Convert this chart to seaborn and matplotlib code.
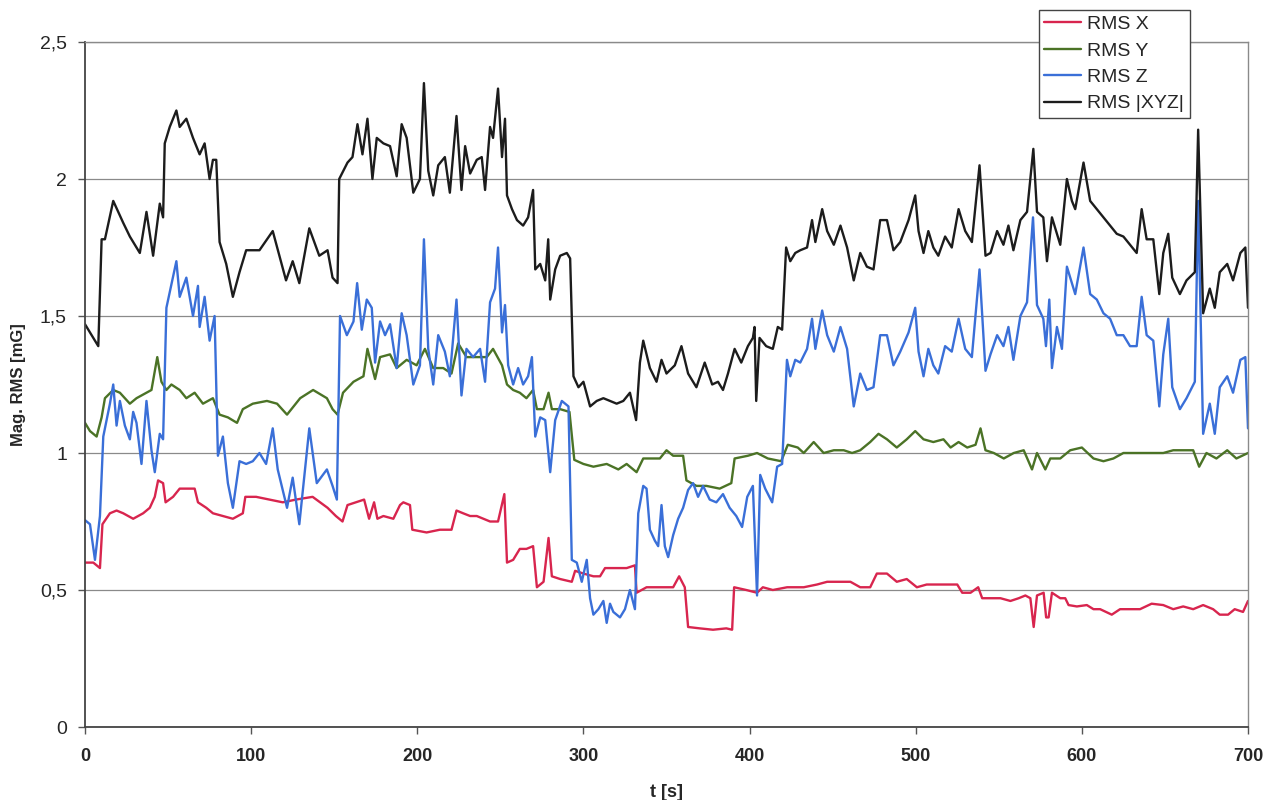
import numpy as np
import pandas as pd
import matplotlib
matplotlib.use("Agg")
import matplotlib.pyplot as plt
import seaborn as sns
from matplotlib.ticker import FuncFormatter, MultipleLocator

# --- datos (t en s, RMS en mG) ---
t_x = [0, 5, 9, 10.5, 15, 19, 23, 29, 35, 39,
       42, 44, 47, 48.5, 53, 57, 61, 66, 68, 73,
       77, 83, 89, 95, 96.5, 103, 111, 119, 127, 137,
       146, 151, 155, 158, 163, 168, 171, 174, 176, 179.6,
       185.6, 189.6, 191.6, 195.6, 197, 205.6, 213.6, 220.6, 223.6, 227.6,
       231.8, 235.8, 239.8, 243.8, 248.6, 252.4, 254, 257.7, 261.7, 265.7,
       269.7, 272, 276, 279, 281, 286, 293, 295, 300, 306,
       310, 313, 320, 326, 331, 332, 338, 346, 354, 357.6,
       361, 363, 370, 378, 386, 389.5, 390.7, 398, 404.5, 408,
       414, 422.6, 432.6, 440.6, 446.7, 454.7, 460.7, 466.6, 472.6, 476.6,
       482.7, 488.6, 494.6, 500.7, 506.6, 512.6, 518.7, 525, 528, 533,
       537.6, 540, 545, 551, 557, 562, 566, 569, 571, 573,
       577, 578.5, 580, 582, 587, 590, 592, 597, 603, 607,
       611, 618, 623, 629, 635, 642, 649, 655, 661, 667,
       673, 679, 683, 688, 692, 697, 700]
rms_x = [.60, .60, .58, .74, .78, .79, .78, .76, .78, .80,
         .84, .90, .89, .82, .84, .87, .87, .87, .82, .80,
         .78, .77, .76, .78, .84, .84, .83, .82, .83, .84,
         .80, .77, .75, .81, .82, .83, .76, .82, .76, .77,
         .76, .81, .82, .81, .72, .71, .72, .72, .79, .78,
         .77, .77, .76, .75, .75, .85, .60, .61, .65, .65,
         .66, .51, .53, .69, .55, .54, .53, .57, .56, .55,
         .55, .58, .58, .58, .59, .49, .51, .51, .51, .55,
         .51, .365, .36, .355, .36, .355, .51, .50, .49, .51,
         .50, .51, .51, .52, .53, .53, .53, .51, .51, .56,
         .56, .53, .54, .51, .52, .52, .52, .52, .49, .49,
         .51, .47, .47, .47, .46, .47, .48, .47, .365, .48,
         .49, .40, .40, .49, .47, .47, .445, .44, .445, .43,
         .43, .41, .43, .43, .43, .45, .445, .43, .44, .43,
         .445, .43, .41, .41, .43, .42, .46]

t_y = [0, 3, 7, 10, 12, 17, 21, 27, 31, 37,
       40, 43.5, 46, 49, 52, 57, 61, 66, 71, 77,
       81, 86, 91.5, 95, 101, 109.5, 115.6, 121.6, 129.5, 137.3,
       145.6, 149, 152, 155.3, 161.6, 167.6, 170, 174.6, 177.6, 183.6,
       187.6, 193.6, 199.6, 204.6, 209.6, 215.6, 220.6, 224.6, 229.6, 235.8,
       241.8, 245.6, 251, 254, 257.7, 261.7, 265.7, 269.7, 272, 276,
       279, 281, 286, 291.6, 294.5, 300, 306, 314, 321, 326,
       332, 336, 342, 346, 350, 354, 360, 362, 368, 374,
       382, 389, 391, 399, 404.5, 411, 419, 423, 429, 432.6,
       438.6, 444.6, 450.7, 456.7, 461.7, 466.6, 472.6, 477.6, 482.7, 488.6,
       494.6, 499.7, 504.7, 510.6, 516.7, 521, 525.8, 531, 536, 539,
       542, 547, 553, 559, 565, 570, 573, 578, 581, 587,
       593, 600, 607, 613, 619, 625, 631, 637, 643, 649,
       655, 661, 667, 670.6, 675, 681, 687.5, 693, 700]
rms_y = [1.11, 1.08, 1.06, 1.13, 1.20, 1.23, 1.22, 1.18, 1.20, 1.22,
         1.23, 1.35, 1.26, 1.23, 1.25, 1.23, 1.20, 1.22, 1.18, 1.20,
         1.14, 1.13, 1.11, 1.16, 1.18, 1.19, 1.18, 1.14, 1.20, 1.23,
         1.20, 1.16, 1.14, 1.22, 1.26, 1.28, 1.38, 1.27, 1.35, 1.36,
         1.31, 1.34, 1.32, 1.38, 1.31, 1.31, 1.29, 1.40, 1.35, 1.35,
         1.35, 1.38, 1.32, 1.25, 1.23, 1.22, 1.20, 1.23, 1.16, 1.16,
         1.22, 1.16, 1.16, 1.15, 0.975, 0.96, 0.95, 0.96, 0.94, 0.96,
         0.93, 0.98, 0.98, 0.98, 1.01, 0.99, 0.99, 0.90, 0.88, 0.88,
         0.87, 0.89, 0.98, 0.99, 1.00, 0.98, 0.97, 1.03, 1.02, 1.00,
         1.04, 1.00, 1.01, 1.01, 1.00, 1.01, 1.04, 1.07, 1.05, 1.02,
         1.05, 1.08, 1.05, 1.04, 1.05, 1.02, 1.04, 1.02, 1.03, 1.09,
         1.01, 1.00, 0.98, 1.00, 1.01, 0.94, 1.00, 0.94, 0.98, 0.98,
         1.01, 1.02, 0.98, 0.97, 0.98, 1.00, 1.00, 1.00, 1.00, 1.00,
         1.01, 1.01, 1.01, 0.95, 1.00, 0.98, 1.01, 0.98, 1.00]

t_z = [0, 3, 6, 9, 11, 15, 17, 19, 21, 24,
       27, 29, 31, 34, 37, 40, 42, 45, 47, 49,
       55, 57, 61, 65, 68, 69, 72, 75, 78, 80,
       83, 86, 89, 93, 97, 101, 105, 109, 113, 116,
       121.6, 125, 129, 135, 139.5, 145.6, 149, 151.6, 153.5, 157.6,
       161.6, 163.8, 166.6, 169.6, 172.6, 174.6, 177.6, 180.6, 183.6, 187.6,
       190.6, 193.6, 197.6, 201.6, 204, 206.6, 209.6, 212.6, 216.6, 219.6,
       223.6, 226.6, 229.6, 233.6, 237.8, 240.8, 243.8, 246.8, 248.6, 251,
       252.8, 254.7, 257.7, 260.7, 263.7, 266.7, 269, 271, 274, 277,
       280, 283, 287, 291, 293, 296, 299, 302, 304, 306,
       309, 312, 314, 316, 318, 322, 325, 328, 331, 333,
       336, 338, 340, 343, 345, 347, 349, 351, 354, 357,
       360, 363, 366, 369, 372, 376, 380, 384, 388, 392,
       395.5, 398.6, 402, 404.5, 406.4, 409.4, 413.6, 416.6, 419.6, 422.5,
       424.5, 427.5, 430.5, 434.6, 437.6, 439.6, 443.7, 446.7, 450.7, 454.7,
       458.7, 462.7, 466.6, 470.6, 474.6, 478.6, 482.7, 486.6, 490.7, 495.7,
       499.7, 501.7, 504.7, 507.6, 510.6, 513.6, 517.7, 521.7, 525.8, 529.8,
       533.8, 538.4, 542, 545, 549, 552.8, 555.8, 558.8, 563, 567,
       570.6, 573, 576.8, 578.4, 580.4, 582, 585, 588, 591, 596,
       601, 605, 609, 613, 617, 621, 625, 629, 633, 636,
       639, 643, 646.6, 649, 652, 654.4, 659, 663, 668, 670,
       673, 677, 680, 683, 687.5, 691, 695.4, 698.4, 700]
rms_z = [0.755, 0.74, 0.61, 0.77, 1.06, 1.18, 1.25, 1.10, 1.19, 1.10,
         1.05, 1.15, 1.11, 0.96, 1.19, 1.01, 0.93, 1.07, 1.05, 1.53,
         1.70, 1.57, 1.64, 1.50, 1.61, 1.46, 1.57, 1.41, 1.50, 0.99,
         1.06, 0.89, 0.80, 0.97, 0.96, 0.97, 1.00, 0.96, 1.09, 0.94,
         0.80, 0.91, 0.74, 1.09, 0.89, 0.94, 0.88, 0.83, 1.50, 1.43,
         1.48, 1.62, 1.45, 1.56, 1.53, 1.33, 1.48, 1.43, 1.47, 1.31,
         1.51, 1.43, 1.25, 1.32, 1.78, 1.38, 1.25, 1.43, 1.37, 1.28,
         1.56, 1.21, 1.38, 1.35, 1.38, 1.26, 1.55, 1.60, 1.75, 1.44,
         1.54, 1.32, 1.25, 1.31, 1.25, 1.28, 1.35, 1.06, 1.13, 1.12,
         0.93, 1.12, 1.19, 1.17, 0.61, 0.60, 0.53, 0.61, 0.47, 0.41,
         0.43, 0.46, 0.38, 0.45, 0.42, 0.40, 0.43, 0.50, 0.43, 0.78,
         0.88, 0.87, 0.72, 0.68, 0.66, 0.81, 0.66, 0.62, 0.70, 0.76,
         0.80, 0.865, 0.89, 0.84, 0.88, 0.83, 0.82, 0.85, 0.80, 0.77,
         0.73, 0.84, 0.88, 0.48, 0.92, 0.87, 0.82, 0.95, 0.96, 1.34,
         1.28, 1.34, 1.33, 1.38, 1.49, 1.38, 1.52, 1.43, 1.37, 1.46,
         1.38, 1.17, 1.29, 1.23, 1.24, 1.43, 1.43, 1.32, 1.37, 1.44,
         1.53, 1.37, 1.28, 1.38, 1.32, 1.29, 1.39, 1.37, 1.49, 1.38,
         1.35, 1.67, 1.30, 1.36, 1.43, 1.39, 1.46, 1.34, 1.50, 1.55,
         1.86, 1.54, 1.49, 1.39, 1.56, 1.31, 1.46, 1.38, 1.68, 1.58,
         1.75, 1.58, 1.56, 1.51, 1.49, 1.43, 1.43, 1.39, 1.39, 1.57,
         1.43, 1.41, 1.17, 1.36, 1.49, 1.24, 1.16, 1.20, 1.26, 1.92,
         1.07, 1.18, 1.07, 1.24, 1.28, 1.22, 1.34, 1.35, 1.09]

t_xyz = [0, 8, 10, 12, 17, 23, 27, 33, 37, 41,
         45, 47, 48, 51, 55, 57, 61, 65, 69, 72,
         75, 77, 79, 81, 85, 89, 93, 97, 105, 113,
         121, 125, 129, 135, 141, 146, 149, 152, 153, 158,
         161, 164, 167, 170, 173, 175.6, 179.6, 183.6, 187.6, 190.6,
         193.6, 197.6, 201.6, 204, 206.6, 209.6, 212.6, 216.6, 219.6, 223.6,
         226.6, 228.8, 231.8, 235.8, 238.8, 240.8, 243.8, 245.6, 248.6, 251,
         252.8, 254, 257, 260, 263.7, 266.7, 269.7, 271, 274, 277,
         278.8, 280, 283, 286, 290, 292, 294, 297, 300, 304,
         308, 312, 316, 320, 324, 328, 331.7, 334, 336, 340,
         344, 347, 350, 355, 359, 363, 368, 373, 377.5, 381,
         384, 387, 391, 395, 399, 402, 403, 404, 406, 410,
         414, 417, 419.6, 422, 424.5, 427.5, 430.5, 434.6, 437.6, 439.6,
         443.7, 446.7, 450.7, 454.7, 458.7, 462.7, 466.6, 470.6, 474.6, 478.6,
         482.7, 486.6, 490.7, 495.7, 499.7, 501.7, 504.7, 507.6, 510.6, 513.6,
         517.7, 521.7, 525.8, 529.8, 533.8, 538.4, 542, 545, 549, 552.8,
         555.8, 558.8, 563, 567, 570.8, 573, 576.8, 579, 582, 587,
         591, 594, 596, 601, 605, 609, 613, 617, 621, 625,
         629, 633, 636, 639, 643, 646.6, 649, 652, 654.4, 659,
         663, 668, 670, 673, 677, 680, 683, 687.5, 691, 695.4,
         698.4, 700]
rms_xyz = [1.47, 1.39, 1.78, 1.78, 1.92, 1.84, 1.79, 1.73, 1.88, 1.72,
           1.91, 1.86, 2.13, 2.19, 2.25, 2.19, 2.22, 2.15, 2.09, 2.13,
           2.00, 2.07, 2.07, 1.77, 1.69, 1.57, 1.66, 1.74, 1.74, 1.81,
           1.63, 1.70, 1.62, 1.82, 1.72, 1.74, 1.64, 1.62, 2.00, 2.06,
           2.08, 2.20, 2.09, 2.22, 2.00, 2.15, 2.13, 2.12, 2.01, 2.20,
           2.15, 1.95, 2.00, 2.35, 2.03, 1.94, 2.05, 2.08, 1.95, 2.23,
           1.96, 2.12, 2.02, 2.07, 2.08, 1.96, 2.19, 2.15, 2.33, 2.08,
           2.22, 1.94, 1.89, 1.85, 1.83, 1.86, 1.96, 1.67, 1.69, 1.63,
           1.78, 1.56, 1.67, 1.72, 1.73, 1.71, 1.28, 1.24, 1.26, 1.17,
           1.19, 1.20, 1.19, 1.18, 1.19, 1.22, 1.12, 1.33, 1.41, 1.31,
           1.26, 1.34, 1.29, 1.32, 1.39, 1.29, 1.24, 1.33, 1.25, 1.26,
           1.23, 1.29, 1.38, 1.33, 1.39, 1.42, 1.46, 1.19, 1.42, 1.39,
           1.38, 1.46, 1.45, 1.75, 1.70, 1.73, 1.74, 1.75, 1.85, 1.77,
           1.89, 1.81, 1.76, 1.83, 1.75, 1.63, 1.73, 1.68, 1.67, 1.85,
           1.85, 1.74, 1.77, 1.85, 1.94, 1.81, 1.73, 1.81, 1.75, 1.72,
           1.79, 1.75, 1.89, 1.81, 1.77, 2.05, 1.72, 1.73, 1.81, 1.76,
           1.83, 1.74, 1.85, 1.88, 2.11, 1.88, 1.86, 1.70, 1.86, 1.76,
           2.00, 1.92, 1.89, 2.06, 1.92, 1.89, 1.86, 1.83, 1.80, 1.79,
           1.76, 1.73, 1.89, 1.78, 1.78, 1.58, 1.73, 1.80, 1.64, 1.58,
           1.63, 1.66, 2.18, 1.51, 1.60, 1.53, 1.66, 1.69, 1.63, 1.73,
           1.75, 1.53]

series_names = ["RMS X", "RMS Y", "RMS Z", "RMS |XYZ|"]
colores = ["#d8254e", "#4b7326", "#3a6fd8", "#1c1c1c"]

# tabla larga para seaborn
partes = []
for nombre, t, v in zip(series_names, [t_x, t_y, t_z, t_xyz], [rms_x, rms_y, rms_z, rms_xyz]):
    partes.append(pd.DataFrame({"t": t, "rms": v, "serie": nombre}))
df = pd.concat(partes, ignore_index=True)

sns.set_theme(style="white")
plt.rcParams["font.family"] = ["Liberation Sans", "DejaVu Sans"]

fig = plt.figure(figsize=(12.75, 8), dpi=100)
ax = fig.add_axes([85 / 1275, 73 / 800, 1163 / 1275, 685 / 800])

sns.lineplot(data=df, x="t", y="rms", hue="serie", hue_order=series_names,
             palette=dict(zip(series_names, colores)), estimator=None,
             sort=False, linewidth=1.7, ax=ax)

ax.set_xlim(0, 700)
ax.set_ylim(0, 2.5)
ax.xaxis.set_major_locator(MultipleLocator(100))
ax.yaxis.set_major_locator(MultipleLocator(0.5))
ax.yaxis.set_major_formatter(FuncFormatter(lambda v, p: ("%g" % v).replace(".", ",")))
ax.yaxis.grid(True, color="#8a8a8a", linewidth=0.9)
ax.xaxis.grid(False)
ax.set_axisbelow(True)

ax.tick_params(axis="both", direction="out", length=5, width=1, color="#555555",
               bottom=True, left=True)
ax.tick_params(axis="y", labelsize=14, pad=8)
ax.tick_params(axis="x", labelsize=13, pad=10)
for lab in ax.get_xticklabels():
    lab.set_fontweight("bold")

for s in ["left", "bottom"]:
    ax.spines[s].set_color("#444444")
    ax.spines[s].set_linewidth(1.3)
for s in ["top", "right"]:
    ax.spines[s].set_color("#8a8a8a")
    ax.spines[s].set_linewidth(1.0)

ax.set_xlabel("t [s]", fontsize=13, fontweight="bold", labelpad=14)
ax.set_ylabel("Mag. RMS [mG]", fontsize=12, fontweight="bold", labelpad=10)

leg = ax.legend(loc="upper left", bbox_to_anchor=(0.820, 1.047), fontsize=14,
                frameon=True, fancybox=False, edgecolor="#444444", framealpha=1,
                handlelength=1.9, handletextpad=0.3, labelspacing=0.45,
                borderpad=0.3, borderaxespad=0)
leg.get_frame().set_linewidth(1.0)
leg.set_zorder(10)

fig.savefig("out.png", dpi=100)
